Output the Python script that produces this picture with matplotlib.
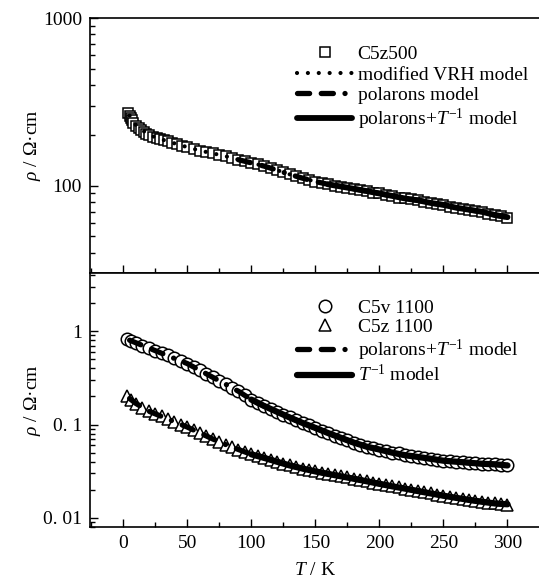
import numpy as np
import matplotlib
matplotlib.use("Agg")
import matplotlib.pyplot as plt
from matplotlib.ticker import MultipleLocator, NullFormatter

plt.rcParams['font.family'] = ['Liberation Serif', 'DejaVu Serif']
plt.rcParams['font.size'] = 14
plt.rcParams['mathtext.fontset'] = 'custom'
plt.rcParams['mathtext.rm'] = 'Liberation Serif'
plt.rcParams['mathtext.it'] = 'Liberation Serif:italic'
plt.rcParams['mathtext.bf'] = 'Liberation Serif:bold'

# Top panel: C5z500 measured points
T_sq = [4, 5, 6, 7, 8, 10, 12, 14, 16, 18, 20, 23, 26, 29, 32, 35, 38, 42, 46, 50,
        55, 60, 65, 70, 75, 80, 85, 90, 95, 100, 105, 110, 115, 120, 125, 130, 135, 140,
        145, 150, 155, 160, 165, 170, 175, 180, 185, 190, 195, 200, 205, 210, 215, 220,
        225, 230, 235, 240, 245, 250, 255, 260, 265, 270, 275, 280, 285, 290, 295, 300]
rho_sq = [272, 262, 252, 245, 238, 228, 220, 214, 209, 204, 200, 196, 193, 190, 187, 184,
          181, 177, 173, 170, 166, 162, 159, 156, 153, 150, 146, 143, 140, 137, 134, 131,
          127, 124, 120, 117, 114, 111, 108, 106, 104, 102, 100, 99, 97, 96, 94, 93, 91,
          90, 88, 87, 85, 84, 83, 82, 80, 79, 78, 77, 75, 74, 73, 72, 71, 70, 68, 67, 66, 64]

# model curves (top panel)
T_fit = [5, 10, 20, 30, 40, 50, 60, 70, 80, 90, 100, 110, 120, 130, 140, 150, 160, 170,
         180, 190, 200, 210, 220, 230, 240, 250, 260, 270, 280, 290, 300]
rho_fit_top = [262, 229, 201, 189, 179, 170, 162, 156, 150, 143, 137, 131, 124, 117, 111,
               106, 102, 99, 96, 93, 90, 87, 84, 82, 79, 77, 74, 72, 70, 67, 65]

# Bottom panel: C5v 1100 and C5z 1100 measured points
T_b = [3, 6, 10, 15, 20, 25, 30, 35, 40, 45, 50, 55, 60, 65, 70, 75, 80, 85, 90, 95, 100,
       105, 110, 115, 120, 125, 130, 135, 140, 145, 150, 155, 160, 165, 170, 175, 180, 185,
       190, 195, 200, 205, 210, 215, 220, 225, 230, 235, 240, 245, 250, 255, 260, 265, 270,
       275, 280, 285, 290, 295, 300]
rho_c5v = [0.83, 0.79, 0.75, 0.70, 0.66, 0.62, 0.58, 0.55, 0.51, 0.48, 0.45, 0.415, 0.38,
           0.35, 0.32, 0.295, 0.27, 0.248, 0.227, 0.205, 0.185, 0.171, 0.158, 0.147, 0.137,
           0.128, 0.119, 0.111, 0.104, 0.098, 0.092, 0.086, 0.081, 0.076, 0.072, 0.068,
           0.064, 0.061, 0.058, 0.056, 0.054, 0.052, 0.050, 0.049, 0.047, 0.046, 0.045,
           0.044, 0.043, 0.042, 0.041, 0.0405, 0.040, 0.0395, 0.039, 0.0385, 0.038,
           0.0378, 0.0375, 0.0372, 0.037]
rho_c5z = [0.200, 0.185, 0.168, 0.152, 0.139, 0.130, 0.122, 0.114, 0.107, 0.100, 0.094,
           0.087, 0.081, 0.075, 0.070, 0.065, 0.061, 0.057, 0.054, 0.051, 0.048, 0.046,
           0.044, 0.042, 0.040, 0.038, 0.0365, 0.035, 0.0338, 0.0326, 0.0315, 0.0305,
           0.0296, 0.0287, 0.0279, 0.0271, 0.0263, 0.0255, 0.0247, 0.0239, 0.0232, 0.0225,
           0.0218, 0.0212, 0.0206, 0.0200, 0.0194, 0.0188, 0.0183, 0.0178, 0.0173, 0.0168,
           0.0164, 0.0160, 0.0156, 0.0152, 0.0149, 0.0146, 0.0143, 0.0140, 0.0137]

# model curves (bottom panel)
rho_fit_c5v = [0.80, 0.75, 0.66, 0.58, 0.51, 0.45, 0.38, 0.32, 0.27, 0.227, 0.185, 0.158,
               0.137, 0.119, 0.104, 0.092, 0.081, 0.072, 0.064, 0.058, 0.054, 0.050, 0.047,
               0.045, 0.043, 0.041, 0.040, 0.039, 0.038, 0.0375, 0.0365]
rho_fit_c5z = [0.19, 0.168, 0.139, 0.122, 0.107, 0.094, 0.081, 0.070, 0.061, 0.054, 0.048,
               0.044, 0.040, 0.0365, 0.0338, 0.0315, 0.0296, 0.0279, 0.0263, 0.0247, 0.0232,
               0.0218, 0.0206, 0.0194, 0.0183, 0.0173, 0.0164, 0.0156, 0.0149, 0.0143, 0.0140]

T_fit = np.array(T_fit)
dotted = (0, (0.01, 2.6))
dashdot = (0, (2.3, 2.2, 2.3, 2.2, 0.01, 2.2))

fig = plt.figure(figsize=(5.39, 5.83), dpi=100)
ax1 = fig.add_axes([0.1675, 0.5317, 0.8325, 0.4374])
ax2 = fig.add_axes([0.1675, 0.0961, 0.8325, 0.4357])

# ---- top panel
ax1.plot(T_sq, rho_sq, 's', ms=7.5, mfc='white', mec='black', mew=1.1, label='C5z500', zorder=2)
ax1.plot(T_fit, rho_fit_top, color='black', ls=dotted, lw=3.0, dash_capstyle='round',
         label='modified VRH model', zorder=3)
m = T_fit >= 90
ax1.plot(T_fit[m], np.array(rho_fit_top)[m], color='black', ls=dashdot, lw=3.8,
         dash_capstyle='round', label='polarons model', zorder=3)
m = T_fit >= 160
ax1.plot(T_fit[m], np.array(rho_fit_top)[m], color='black', lw=4.2, solid_capstyle='round',
         label='polarons+$T^{-1}$ model', zorder=3)

ax1.set_yscale('log')
ax1.set_ylim(30.2, 1000)
ax1.set_yticks([100, 1000], ['100', '1000'])
ax1.tick_params(labelbottom=False)
ax1.legend(loc='upper left', bbox_to_anchor=(0.44, 0.93), frameon=False, numpoints=1,
           handlelength=2.8, handletextpad=0.3, labelspacing=0.14, borderpad=0, fontsize=14)

# ---- bottom panel
ax2.plot(T_b, rho_c5v, 'o', ms=9, mfc='white', mec='black', mew=1.1, label='C5v 1100', zorder=2)
ax2.plot(T_b, rho_c5z, '^', ms=9, mfc='white', mec='black', mew=1.1, label='C5z 1100', zorder=2)
ax2.plot(T_fit, rho_fit_c5v, color='black', ls=dashdot, lw=3.8, dash_capstyle='round',
         label='polarons+$T^{-1}$ model', zorder=3)
ax2.plot(T_fit, rho_fit_c5z, color='black', ls=dashdot, lw=3.8, dash_capstyle='round', zorder=3)
m = T_fit >= 100
ax2.plot(T_fit[m], np.array(rho_fit_c5v)[m], color='black', lw=4.5, solid_capstyle='round',
         label='$T^{-1}$ model', zorder=3)
ax2.plot(T_fit[m], np.array(rho_fit_c5z)[m], color='black', lw=4.5, solid_capstyle='round', zorder=3)

ax2.set_yscale('log')
ax2.set_ylim(0.008, 4.2)
ax2.set_yticks([0.01, 0.1, 1], ['0. 01', '0. 1', '1'])
ax2.set_xlabel('$T$ / K', labelpad=7)
ax2.legend(loc='upper left', bbox_to_anchor=(0.44, 0.935), frameon=False, numpoints=1,
           handlelength=2.8, handletextpad=0.3, labelspacing=0.08, borderpad=0, fontsize=14)

# shared styling
for ax in (ax1, ax2):
    ax.set_xlim(-25.7, 324.6)
    ax.xaxis.set_major_locator(MultipleLocator(50))
    ax.xaxis.set_minor_locator(MultipleLocator(25))
    ax.yaxis.set_minor_formatter(NullFormatter())
    ax.tick_params(which='both', direction='in', top=False, right=False)
    ax.tick_params(which='major', length=6, width=1.0, pad=6)
    ax.tick_params(which='minor', length=3.5, width=1.0)
    ax.spines['right'].set_visible(False)
    for s in ('left', 'top', 'bottom'):
        ax.spines[s].set_linewidth(1.2)
    ax.set_ylabel('$\\rho$ / Ω·cm')
    ax.yaxis.set_label_coords(-0.105, 0.5)

fig.savefig('out.png', dpi=100)
